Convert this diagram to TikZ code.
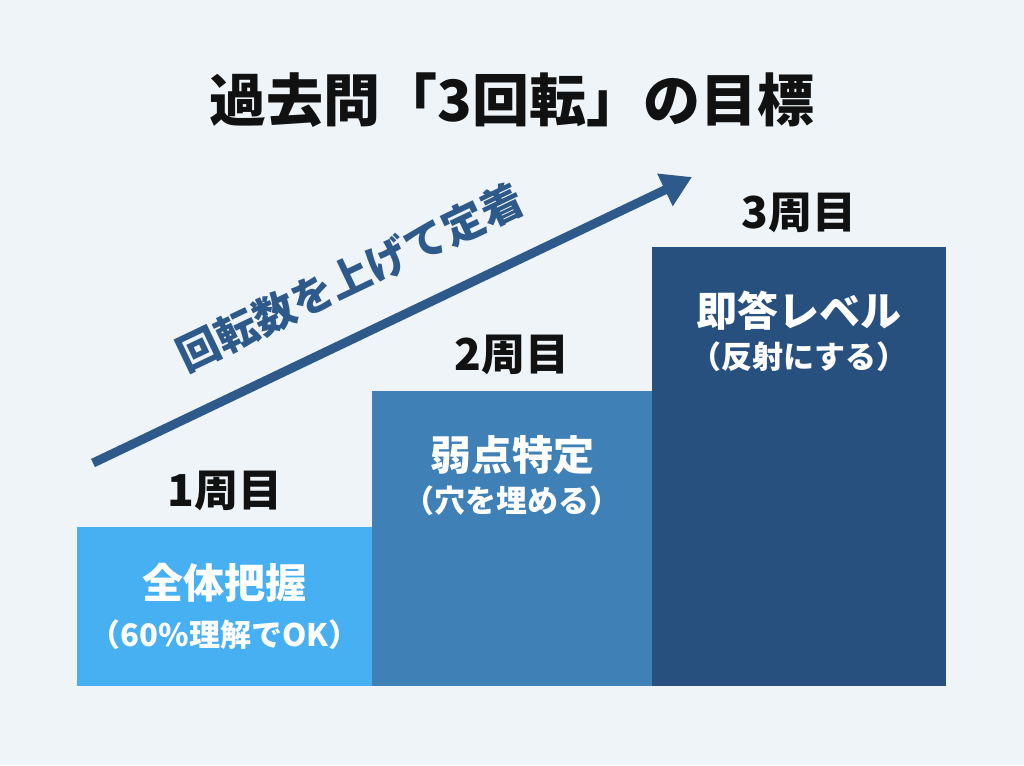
\documentclass[tikz,border=0pt]{standalone}
\usepackage{fontspec}
\setmainfont{Noto Sans CJK JP}
\usepackage{tikz}
\usetikzlibrary{positioning,arrows.meta}

\definecolor{bgcol}{HTML}{EEF4F8}
\definecolor{barone}{HTML}{47B0F2}
\definecolor{bartwo}{HTML}{3F80B6}
\definecolor{barthree}{HTML}{28507F}
\definecolor{arrowcol}{HTML}{2D5A8A}
\definecolor{inkcol}{HTML}{111111}

\newcommand{\subsize}{\fontsize{31}{34}\selectfont}

\begin{document}
\begin{tikzpicture}[
     x = 1pt, y = -1pt, % pixel grid, origin top left
     > = {Triangle[length=30pt, width=34pt]}, % arrow head style
     node distance = 12pt, % distance between nodes
     inner sep = 0pt
 ]

 \tikzstyle{bar}=[
     rectangle,
     anchor = north west,
     draw = none
 ]
 \tikzstyle{round}=[
     font = \fontsize{44}{50}\selectfont\bfseries,
     text = inkcol
 ]
 \tikzstyle{inside}=[
     font = \fontsize{41}{46}\selectfont\bfseries,
     text = white,
     align = center
 ]

 \fill[bgcol] (0,0) rectangle (1024,765);

 \node[font=\fontsize{57}{62}\selectfont\bfseries, text=inkcol] (title) at (512,100) {過去問「3回転」の目標};

 % the three rounds
 \node[bar, fill=barone, minimum width=295pt, minimum height=159pt] (b1) at (77,527) {};
 \node[bar, fill=bartwo, minimum width=280pt, minimum height=295pt] (b2) at (372,391) {};
 \node[bar, fill=barthree, minimum width=294pt, minimum height=439pt] (b3) at (652,247) {};

 \node[round] (r1) [above=16pt of b1.north] {1周目};
 \node[round] (r2) [above=16pt of b2.north] {2周目};
 \node[round] (r3) [above=14pt of b3.north] {3周目};

 \node[inside] (t1) [below=36pt of b1.north] {全体把握\\[2pt]{\subsize（60\%理解でOK）}};
 \node[inside] (t2) [below=44pt of b2.north] {弱点特定\\[-4pt]{\subsize（穴を埋める）}};
 \node[inside] (t3) [below=44pt of b3.north] {即答レベル\\[-4pt]{\subsize（反射にする）}};

 % rising arrow
 \coordinate (start) at (93,463);
 \coordinate (end) at (692,177);
 \draw[->, line width=9pt, draw=arrowcol, fill=arrowcol] (start) -- node[pos=0.47, sloped, above=32pt, text=arrowcol, font=\fontsize{42}{46}\selectfont\bfseries] (lbl) {回転数を上げて定着} (end);
\end{tikzpicture}
\end{document}
